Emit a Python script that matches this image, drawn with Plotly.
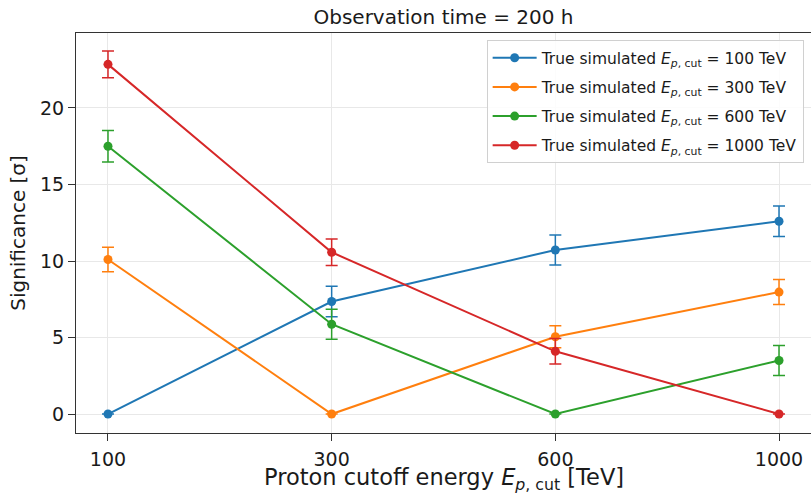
import plotly.graph_objects as go

categories = ["100", "300", "600", "1000"]
series_names = [
    "True simulated <i>E</i><sub><i>p</i>, cut</sub> = 100 TeV",
    "True simulated <i>E</i><sub><i>p</i>, cut</sub> = 300 TeV",
    "True simulated <i>E</i><sub><i>p</i>, cut</sub> = 600 TeV",
    "True simulated <i>E</i><sub><i>p</i>, cut</sub> = 1000 TeV",
]
sig_100 = [0.0, 7.35, 10.72, 12.6]
err_100 = [0.0, 1.0, 0.98, 1.0]
sig_300 = [10.1, 0.0, 5.05, 7.97]
err_300 = [0.8, 0.0, 0.72, 0.82]
sig_600 = [17.5, 5.87, 0.0, 3.5]
err_600 = [1.03, 0.98, 0.0, 0.98]
sig_1000 = [22.85, 10.57, 4.1, 0.0]
err_1000 = [0.87, 0.87, 0.83, 0.0]
colors = ["#1f77b4", "#ff7f0e", "#2ca02c", "#d62728"]

values = [sig_100, sig_300, sig_600, sig_1000]
errors = [err_100, err_300, err_600, err_1000]

FONT = "DejaVu Sans"
fig = go.Figure()
for i, (name, v, e, c) in enumerate(zip(series_names, values, errors, colors)):
    fig.add_trace(go.Scatter(
        x=categories, y=v, name=name, mode="lines+markers",
        line=dict(color=c, width=2),
        marker=dict(color=c, size=9),
        error_y=dict(type="data", array=e, visible=True, color=c, thickness=1.5, width=6),
        legendgroup=f"g{i}",
    ))

fig.update_layout(
    width=811, height=493,
    margin=dict(l=76, r=0, t=33, b=60),
    paper_bgcolor="white", plot_bgcolor="white",
    font=dict(family=FONT, color="#1a1a1a"),
    title=dict(text="Observation time = 200 h", x=(76 + 811) / 2 / 811, xanchor="center",
               y=1 - 17 / 493, yanchor="middle", font=dict(size=20, family=FONT, color="#1a1a1a")),
    legend=dict(x=0.99, xanchor="right", y=0.982, yanchor="top",
                bgcolor="rgba(255,255,255,0.85)", bordercolor="#d0d0d0", borderwidth=1,
                font=dict(size=15.5, family=FONT, color="#1a1a1a"), tracegroupgap=6,
                itemwidth=44),
    showlegend=True,
    annotations=[dict(
        text="Proton cutoff energy <i>E</i><sub><i>p</i>, cut</sub> [TeV]",
        xref="paper", yref="paper", x=0.5, y=-(479 - 433) / 400,
        xanchor="center", yanchor="middle", showarrow=False,
        font=dict(size=22.5, family=FONT, color="#1a1a1a"),
    )],
)
fig.update_xaxes(
    type="category", range=[-0.143, 3.143],
    showgrid=True, gridcolor="#e8e8e8", gridwidth=1,
    showline=True, linecolor="#333333", linewidth=1.2, mirror=True,
    ticks="outside", ticklen=7, tickcolor="#333333", ticklabelstandoff=2,
    tickfont=dict(size=19, family=FONT, color="#1a1a1a"),
)
fig.update_yaxes(
    range=[-1.24, 24.9], tickvals=[0, 5, 10, 15, 20],
    showgrid=True, gridcolor="#e8e8e8", gridwidth=1, zeroline=False,
    showline=True, linecolor="#333333", linewidth=1.2,
    ticks="outside", ticklen=7, tickcolor="#333333",
    tickfont=dict(size=19, family=FONT, color="#1a1a1a"),
    title=dict(text="Significance [σ]", font=dict(size=20, family=FONT, color="#1a1a1a"), standoff=8),
)

fig.write_html("out.html")
